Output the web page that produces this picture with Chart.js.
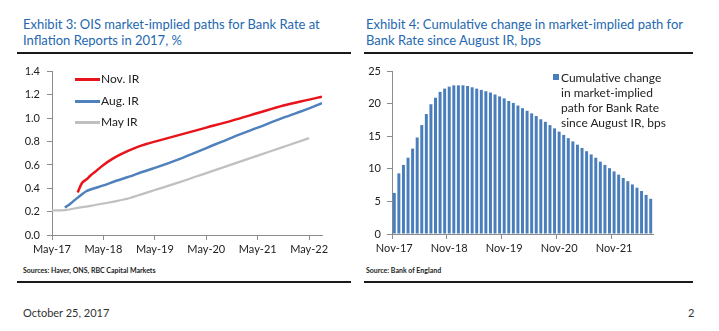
<!DOCTYPE html>
<html>
<head>
<meta charset="utf-8">
<script src="https://cdn.jsdelivr.net/npm/chart.js@4.4.0/dist/chart.umd.min.js"></script>
<style>
  body { margin: 0; background: #fff; font-family: Lato, "Liberation Sans", sans-serif; }
  #page { position: relative; width: 719px; height: 331px; overflow: hidden; background: #fff; }
  .title { position: absolute; top: 16px; font-size: 13px; line-height: 16px; color: #2468b0; white-space: nowrap; }
  .rule { position: absolute; height: 2px; background: #1a1a1a; }
  canvas { position: absolute; }
  .src { position: absolute; top: 266px; font-size: 7px; font-weight: bold; color: #222; white-space: nowrap; }
  .key { position: absolute; font-size: 12px; color: #222; white-space: nowrap; line-height: 14px; }
  .swatch { position: absolute; height: 3px; }
  .foot { position: absolute; top: 306px; font-size: 11px; color: #333; }
</style>
</head>
<body>
<div id="page">
  <div class="title" style="left:23px">Exhibit 3: OIS market-implied paths for Bank Rate at<br>Inflation Reports in 2017, %</div>
  <div class="title" style="left:366px">Exhibit 4: Cumulative change in market-implied path for<br>Bank Rate since August IR, bps</div>
  <div class="rule" style="left:17px; top:52px; width:334px"></div>
  <div class="rule" style="left:364px; top:52px; width:329px"></div>

  <canvas id="rates" width="345" height="200" style="left:0; top:58px"></canvas>
  <canvas id="bps" width="359" height="200" style="left:360px; top:58px"></canvas>

  <!-- legend, left chart -->
  <div class="swatch" style="left:75px; top:78px; width:25px; background:#e8141b"></div>
  <div class="key" style="left:101px; top:72px">Nov. IR</div>
  <div class="swatch" style="left:75px; top:100px; width:25px; background:#4f81bd"></div>
  <div class="key" style="left:101px; top:94px">Aug. IR</div>
  <div class="swatch" style="left:75px; top:121px; width:25px; background:#c0c0c0"></div>
  <div class="key" style="left:101px; top:115px">May IR</div>

  <!-- legend, right chart -->
  <div class="swatch" style="left:553px; top:74px; width:6px; height:6px; background:#4a7ebb"></div>
  <div class="key" style="left:561px; top:70px; line-height:15px">Cumulative change<br>in market-implied<br>path for Bank Rate<br>since August IR, bps</div>

  <div class="src" style="left:23px">Sources: Haver, ONS, RBC Capital Markets</div>
  <div class="src" style="left:366px">Source: Bank of England</div>
  <div class="rule" style="left:17px; top:281px; width:334px; height:1.5px"></div>
  <div class="rule" style="left:364px; top:281px; width:329px; height:1.5px"></div>

  <div class="foot" style="left:23px">October 25, 2017</div>
  <div class="foot" style="left:688px">2</div>
</div>

<script>
// Exhibit 3: OIS-implied Bank Rate paths (%), x = months after May-17
const rateTicks = ['May-17', 'May-18', 'May-19', 'May-20', 'May-21', 'May-22'];

const novMonths = [6, 7, 8, 9, 10, 12, 14, 16, 18, 20, 22, 24, 30, 36, 42, 48, 54, 60, 63];
const novRate   = [0.365, 0.445, 0.475, 0.51, 0.54, 0.60, 0.65, 0.69, 0.725, 0.755, 0.78, 0.80, 0.86, 0.92, 0.98, 1.045, 1.11, 1.16, 1.185];

const augMonths = [3, 4, 5, 6, 7, 8, 9, 12, 15, 18, 21, 24, 30, 36, 42, 48, 54, 60, 63];
const augRate   = [0.235, 0.26, 0.29, 0.32, 0.35, 0.375, 0.39, 0.425, 0.465, 0.50, 0.54, 0.575, 0.655, 0.745, 0.835, 0.92, 1.005, 1.085, 1.13];

const mayMonths = [0, 3, 6, 9, 12, 15, 18, 21, 24, 30, 36, 42, 48, 54, 60];
const mayRate   = [0.21, 0.213, 0.233, 0.25, 0.27, 0.29, 0.315, 0.35, 0.385, 0.455, 0.53, 0.605, 0.68, 0.755, 0.83];

// Exhibit 4: cumulative change since August IR (bps), monthly
const bpsMonths = [
  'Nov-17', 'Dec-17',
  'Jan-18', 'Feb-18', 'Mar-18', 'Apr-18', 'May-18', 'Jun-18', 'Jul-18', 'Aug-18', 'Sep-18', 'Oct-18', 'Nov-18', 'Dec-18',
  'Jan-19', 'Feb-19', 'Mar-19', 'Apr-19', 'May-19', 'Jun-19', 'Jul-19', 'Aug-19', 'Sep-19', 'Oct-19', 'Nov-19', 'Dec-19',
  'Jan-20', 'Feb-20', 'Mar-20', 'Apr-20', 'May-20', 'Jun-20', 'Jul-20', 'Aug-20', 'Sep-20', 'Oct-20', 'Nov-20', 'Dec-20',
  'Jan-21', 'Feb-21', 'Mar-21', 'Apr-21', 'May-21', 'Jun-21', 'Jul-21', 'Aug-21', 'Sep-21', 'Oct-21', 'Nov-21', 'Dec-21',
  'Jan-22', 'Feb-22', 'Mar-22', 'Apr-22', 'May-22', 'Jun-22', 'Jul-22'
];
const bpsChange = [
  6.3, 9.3,
  10.6, 11.7, 13.1, 14.8, 16.7, 18.4, 19.9, 20.9, 21.8, 22.3, 22.6, 22.8,
  22.8, 22.8, 22.7, 22.5, 22.3, 22.1, 21.9, 21.7, 21.4, 21.1, 20.8, 20.4,
  20.1, 19.7, 19.3, 18.9, 18.5, 18.1, 17.6, 17.2, 16.7, 16.2, 15.7, 15.2,
  14.7, 14.2, 13.7, 13.2, 12.7, 12.2, 11.7, 11.1, 10.6, 10.1, 9.6, 9.1,
  8.6, 8.1, 7.6, 7.1, 6.6, 6.0, 5.4
];

const axisGrey = '#8c8c8c';
const tickFont = { family: 'Lato', size: 11 };
const tickColor = '#222';

const toPoints = (xs, ys) => xs.map((x, i) => ({ x: x, y: ys[i] }));

new Chart(document.getElementById('rates'), {
  type: 'line',
  data: {
    datasets: [
      { label: 'Nov. IR', data: toPoints(novMonths, novRate), borderColor: '#e8141b', borderWidth: 2.5 },
      { label: 'Aug. IR', data: toPoints(augMonths, augRate), borderColor: '#4f81bd', borderWidth: 2.5 },
      { label: 'May IR', data: toPoints(mayMonths, mayRate), borderColor: '#c0c0c0', borderWidth: 2.2 }
    ]
  },
  options: {
    responsive: false,
    animation: false,
    layout: { padding: { top: 13, right: 23, left: 0, bottom: 0 } },
    elements: {
      point: { radius: 0 },
      line: { cubicInterpolationMode: 'monotone', fill: false }
    },
    plugins: { legend: { display: false }, tooltip: { enabled: false } },
    scales: {
      x: {
        type: 'linear',
        min: 0,
        max: 63,
        // one tick per year label, May-17 .. May-22
        afterBuildTicks: s => { s.ticks = rateTicks.map((_, i) => ({ value: i * 12 })); },
        afterFit: s => { s.height = 23; },
        ticks: { autoSkip: false, maxRotation: 0, padding: 3, font: tickFont, color: tickColor,
                 callback: v => rateTicks[Math.round(v / 12)] },
        grid: { drawOnChartArea: false, tickLength: 5, color: axisGrey },
        border: { color: axisGrey }
      },
      y: {
        min: 0,
        max: 1.4,
        afterFit: s => { s.width = 52; },
        ticks: { stepSize: 0.2, padding: 7, font: tickFont, color: tickColor, callback: v => v.toFixed(1) },
        grid: { drawOnChartArea: false, tickLength: 5, color: axisGrey },
        border: { color: axisGrey }
      }
    }
  }
});

new Chart(document.getElementById('bps'), {
  type: 'bar',
  data: {
    labels: bpsMonths,
    datasets: [{
      label: 'Cumulative change in market-implied path for Bank Rate since August IR, bps',
      data: bpsChange,
      backgroundColor: '#4a7ebb',
      barPercentage: 0.65,
      categoryPercentage: 1
    }]
  },
  options: {
    responsive: false,
    animation: false,
    layout: { padding: { top: 13, right: 66, left: 0, bottom: 0 } },
    plugins: { legend: { display: false }, tooltip: { enabled: false } },
    scales: {
      x: {
        afterFit: s => { s.height = 24; },
        ticks: { autoSkip: false, maxRotation: 0, padding: 3, font: tickFont, color: tickColor,
                 callback: (v, i) => (i % 12 === 0 ? bpsMonths[i] : '') },
        grid: { offset: true, drawOnChartArea: false, tickLength: 5,
                tickColor: c => (c.index % 12 === 0 ? axisGrey : 'rgba(0,0,0,0)') },
        border: { color: axisGrey }
      },
      y: {
        min: 0,
        max: 25,
        afterFit: s => { s.width = 32; },
        ticks: { stepSize: 5, padding: 6, font: tickFont, color: tickColor },
        grid: { drawOnChartArea: false, tickLength: 5, color: axisGrey },
        border: { color: axisGrey }
      }
    }
  }
});
</script>
</body>
</html>
